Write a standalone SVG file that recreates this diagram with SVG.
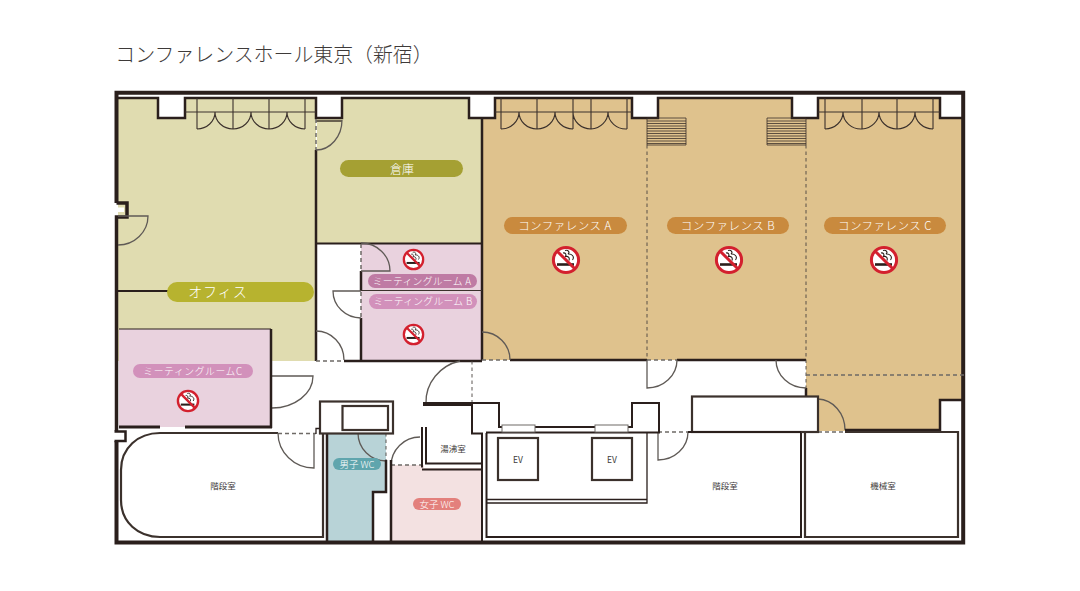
<svg xmlns="http://www.w3.org/2000/svg" xmlns:xlink="http://www.w3.org/1999/xlink" width="1080" height="591" viewBox="0 0 1080 591">
<style>
text{font-family:"Noto Sans CJK JP","Noto Sans",sans-serif;text-anchor:middle}
.w{fill:none;stroke:#2a1f1c;stroke-width:2.5}
.w1{fill:none;stroke:#2a1f1c;stroke-width:1.3}
.w2{fill:none;stroke:#2a1f1c;stroke-width:2}
.t{fill:none;stroke:#3b312c;stroke-width:1.1}
.t8{fill:none;stroke:#3b312c;stroke-width:.8}
.g{fill:none;stroke:#5f5a56;stroke-width:1.3}
.d{fill:none;stroke:#6e6a66;stroke-width:1.5;stroke-dasharray:4 3}
.dd{fill:none;stroke:#4a4340;stroke-width:.9;stroke-dasharray:3.5 3}
.box{fill:#fff;stroke:#3b312c;stroke-width:2.2}
.open{fill:none;stroke:#3b312c;stroke-width:2.2}
.l{fill:#fff;font-weight:300}
.r{fill:#3e3a39;font-size:8.5px}
</style>
<defs>
<symbol id="ns" viewBox="-15 -15 30 30" overflow="visible">
<circle r="12.6" fill="#fff" stroke="#d3202e" stroke-width="3"/>
<path d="M-9 4.500H8" stroke="#2a1f1c" stroke-width="2.600" fill="none"/>
<path d="M-1 -9.500c3.500-1 5 2 3 3.500c3.500 -.5 7 2.500 4.500 6M-3 -7c2.500 -.5 3.500 1.500 2.500 3.500c2.500 -.5 4.500 1 3.500 4" stroke="#2a1f1c" stroke-width="1.100" fill="none"/>
<path d="M-8.800 -8.800L8.800 8.800" stroke="#d3202e" stroke-width="3" fill="none"/>
</symbol>
</defs>
<rect width="1080" height="591" fill="#fff"/>
<text x="274" y="62" font-size="19.900" fill="#3e3a39" font-weight="300">コンファレンスホール東京（新宿）</text>

<g id="fills">
<path id="office-floor" d="M118 98H158V118H185V98H316V361H118Z" fill="#e0dcb0"/>
<path id="storage-floor" d="M317 118H342V98H469V118H482V243H317Z" fill="#e0dcb0"/>
<path id="conf-floor" d="M482 118H495V98H632V118H658V98H792V118H818V98H940V118H962V400H940V431H845V431H818V396H806V360H482Z" fill="#dfc28d"/>
<rect x="361" y="243" width="121" height="117" fill="#e9d2de"/>
<rect x="119" y="329" width="152" height="98" fill="#e9d2de"/>
<path d="M327 433H386V492H373V541H327Z" fill="#b8d3d7"/>
<path d="M391 465H424V468H482V541H391Z" fill="#f3e1e1"/>
</g>

<g id="connectors">
<!-- stair left -->
<path class="box" d="M278 433H160C138 433 121 448 121 470V500C121 522 138 537 160 537H323V433"/>
<!-- outer frame -->
<path d="M116.500 203V92.800H963.200V542.500H116.500V441" fill="none" stroke="#2a1f1c" stroke-width="4"/>
<path d="M116.500 203H127V217H116.500V431" fill="none" stroke="#2a1f1c" stroke-width="3.500"/>
<rect x="114" y="207.500" width="10" height="4.500" fill="#fff"/>
<path d="M114.500 431.500H125.500V441H114.500" fill="none" stroke="#2a1f1c" stroke-width="2.500"/>
<rect x="114" y="433" width="10" height="4.500" fill="#fff"/>
<!-- top wall with columns -->
<path class="w" d="M118 98H158V118H185V98H316V118H342V98H469V118H495V98H632V118H658V98H792V118H818V98H940V118H963"/>
<path class="w1" d="M316 121H342"/>
<!-- main partitions -->
<path class="w" d="M316 150V361"/>
<path class="d" d="M316 119V150"/>
<path class="w" d="M482 118V360"/>
<path class="w2" d="M317 243.500H482"/>
<path class="w2" d="M118 291H168"/>
<path class="w" d="M361 271V291"/>
<path class="d" d="M361 244V270M361 292V318"/>
<path class="w" d="M361 318V360"/>
<path class="t" d="M361 290.500H482"/>
<path class="w" d="M344 361H482"/>
<path class="d" d="M316 361H344"/>
<path class="d" d="M482 360H510M647 360H677"/>
<path class="w" d="M510 360H647M677 360H806"/>
<path class="dd" d="M647 145V360M806 145V388"/>
<path class="d" d="M806 375H964"/>
<path class="w" d="M806 388V396"/>
<!-- louvres -->
<path class="t8" d="M647 118H686V145H647ZM647 121H686M647 123.500H686M647 126H686M647 128.500H686M647 131H686M647 133.500H686M647 136H686M647 138.500H686M647 141H686M647 143.500H686"/>
<path class="t8" d="M767 118H806V145H767ZM767 121H806M767 123.500H806M767 126H806M767 128.500H806M767 131H806M767 133.500H806M767 136H806M767 138.500H806M767 141H806M767 143.500H806"/>
<!-- folding doors -->
<path class="t" d="M185 112H316M197 98V129M233 98V129M269 98V129M305 98V129M197 129A18 17 0 0 0 215 112M233 129A18 17 0 0 1 215 112M233 129A18 17 0 0 0 251 112M269 129A18 17 0 0 1 251 112M269 129A18 17 0 0 0 287 112M305 129A18 17 0 0 1 287 112"/>
<path class="t" d="M495 112H632M501 98V129M537 98V129M573 98V129M591 98V129M627 98V129M501 129A18 17 0 0 0 519 112M537 129A18 17 0 0 1 519 112M537 129A18 17 0 0 0 555 112M573 129A18 17 0 0 1 555 112M591 129A18 17 0 0 1 573 112M591 129A18 17 0 0 0 608 112M627 129A18 17 0 0 1 608 112"/>
<path class="t" d="M818 112H940M825 98V129M862 98V129M897 98V129M933 98V129M825 129A18 17 0 0 0 843 112M862 129A18 17 0 0 1 843 112M862 129A18 17 0 0 0 879 112M897 129A18 17 0 0 1 879 112M897 129A18 17 0 0 0 915 112M933 129A18 17 0 0 1 915 112"/>
<!-- doors -->
<path class="g" d="M342 120A26 30 0 0 1 316 150"/>
<path class="g" d="M118 216H148A30 29 0 0 1 118 245"/>
<path class="g" d="M361 243A29 28 0 0 1 390 271H361"/>
<path class="g" d="M361 291H333A28 27 0 0 0 361 318"/>
<path class="g" d="M316 331A28 29 0 0 1 344 360"/>
<path class="g" d="M272 376H313A41 32 0 0 1 272 408"/>
<path class="g" d="M482 332A28 28 0 0 1 510 360"/>
<path class="g" d="M647 360V388A30 28 0 0 0 677 360"/>
<path class="g" d="M776 360A30 28 0 0 0 806 388"/>
<path class="g" d="M818 399A28 31 0 0 1 845 430"/>
<path class="g" d="M658 432V460A30 28 0 0 0 688 432"/>
<path class="g" d="M278 433A36 35 0 0 0 314 468V433"/>
<path class="g" d="M426 403A44 42 0 0 1 460 361"/>
<path class="g" d="M358 433A28 28 0 0 0 386 461"/>
<path class="g" d="M391 466A29 29 0 0 1 420 437"/>
<path class="dd" d="M472 361V403"/>
<path class="d" d="M278 433.500H316M658 432H688M818 432H845M391 465H423"/>
<path class="dd" d="M386 433V460"/>
<!-- conference C lower wall -->
<path class="w" d="M845 430H940V400H963"/>
<path class="open" d="M845 432H958V537H805V432"/>
<!-- meeting C -->
<path d="M119 329H271" stroke="#2a1f1c" stroke-width="1" fill="none"/>
<path d="M271 329V428" stroke="#2a1f1c" stroke-width="2.500" fill="none"/>
<path d="M119 427H160M185 427H272" stroke="#2a1f1c" stroke-width="2.800" fill="none"/>
<!-- men's WC walls and shaft -->
<path class="w" d="M327 432V541M386 460V492H373V541M391 460V541"/>
<rect class="box" x="320" y="401.500" width="73" height="32"/>
<rect class="box" x="342.500" y="406" width="45.500" height="24"/>
<path class="w1" d="M316 434V428.500H320"/>
<!-- tea room -->
<path class="w2" d="M422 467.500V427M426 427V463.500H482V433.500H472V405H423"/>
<path class="w2" d="M422 469.500H482"/>
<path class="w2" d="M423 403H472H499V427H632V403H659V432.500H486"/>
<!-- core -->
<path class="w2" d="M482 433V541M486.500 433V537H801V433"/>
<path class="w1" d="M486 499.500H647V433M486 503H647V499"/>
<rect x="502" y="425" width="33" height="7" fill="#fff" stroke="#6e6a66" stroke-width="1"/>
<rect x="595" y="425" width="33" height="7" fill="#fff" stroke="#6e6a66" stroke-width="1"/>
<rect class="box" x="692" y="396.500" width="126" height="35.500"/>
<path class="w2" d="M688 432H801"/>
</g>

<g id="office"><rect x="167" y="282" width="147" height="20" rx="10" fill="#b7b32f"/><text class="l" x="218" y="297" font-size="14" letter-spacing="1">オフィス</text></g>
<g id="storage"><rect x="340" y="160" width="123" height="17" rx="8.500" fill="#a5a033"/><text class="l" x="402" y="174" font-size="12">倉庫</text></g>
<g id="conf-a"><rect x="504" y="217" width="123" height="17" rx="8.500" fill="#c98a3e"/><text class="l" x="565" y="230" font-size="11.500" letter-spacing=".5">コンファレンス A</text><use xlink:href="#ns" href="#ns" x="551" y="245" width="30" height="30"/></g>
<g id="conf-b"><rect x="667" y="217" width="122" height="17" rx="8.500" fill="#c98a3e"/><text class="l" x="728" y="230" font-size="11.500" letter-spacing=".5">コンファレンス B</text><use xlink:href="#ns" href="#ns" x="714" y="245" width="30" height="30"/></g>
<g id="conf-c"><rect x="824" y="217" width="122" height="17" rx="8.500" fill="#c98a3e"/><text class="l" x="885" y="230" font-size="11.500" letter-spacing=".5">コンファレンス C</text><use xlink:href="#ns" href="#ns" x="869" y="245" width="30" height="30"/></g>
<g id="meeting-a"><rect x="368" y="274" width="109" height="14" rx="7" fill="#bf7ba4"/><text class="l" x="422" y="285" font-size="9.800" letter-spacing=".3">ミーティングルーム A</text><use xlink:href="#ns" href="#ns" x="402" y="248" width="23" height="23"/></g>
<g id="meeting-b"><rect x="369" y="294" width="108" height="15" rx="7.500" fill="#d291bb"/><text class="l" x="423" y="305" font-size="9.800" letter-spacing=".3">ミーティングルーム B</text><use xlink:href="#ns" href="#ns" x="402" y="323" width="23" height="23"/></g>
<g id="meeting-c"><rect x="133" y="364" width="120" height="14" rx="7" fill="#d291bb"/><text class="l" x="193" y="375" font-size="9.800" letter-spacing=".6">ミーティングルームC</text><use xlink:href="#ns" href="#ns" x="176" y="389" width="24" height="24"/></g>
<g id="mens-wc"><rect x="333" y="458" width="48" height="12" rx="6" fill="#5fa5ad"/><text class="l" x="357" y="468" font-size="9.500">男子 WC</text></g>
<g id="womens-wc"><rect x="413" y="498" width="48" height="12" rx="6" fill="#e3807c"/><text class="l" x="437" y="508" font-size="9.500">女子 WC</text></g>
<g id="tea"><text class="r" x="453" y="452" font-size="9">湯沸室</text></g>
<g id="stair-1"><text class="r" x="223" y="489">階段室</text></g>
<g id="stair-2"><text class="r" x="725" y="489">階段室</text></g>
<g id="machine"><text class="r" x="883" y="489">機械室</text></g>
<g id="ev-1"><rect class="box" x="498" y="438" width="40" height="42"/><text class="r" x="518" y="463" font-size="8">EV</text></g>
<g id="ev-2"><rect class="box" x="592" y="438" width="40" height="42"/><text class="r" x="612" y="463" font-size="8">EV</text></g>
</svg>
